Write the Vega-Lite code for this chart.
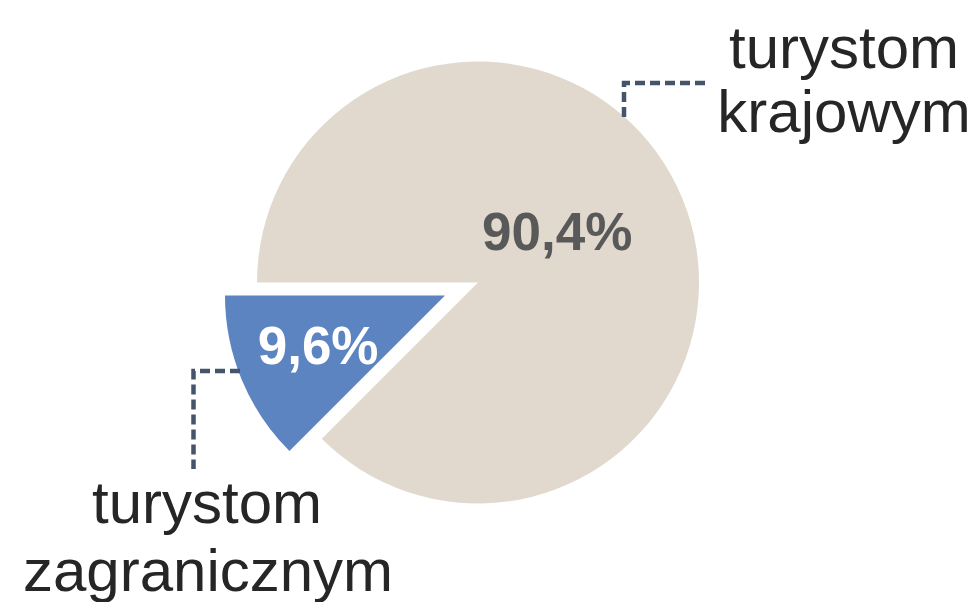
{
  "$schema": "https://vega.github.io/schema/vega-lite/v6.json",
  "width": 956,
  "height": 565,
  "autosize": {"type": "none"},
  "padding": {"left": 0, "top": 0, "right": 22, "bottom": 37},
  "background": "white",
  "config": {"view": {"stroke": null}},
  "datasets": {
    "udzialy": [
      {"kategoria": "turystom krajowym", "udzial": 90.4, "etykieta": "90,4%", "kolejnosc": 1},
      {"kategoria": "turystom zagranicznym", "udzial": 9.6, "etykieta": "9,6%", "kolejnosc": 2}
    ],
    "podpisy": [
      {"linia": "turystom", "px": 844, "py": 68},
      {"linia": "krajowym", "px": 844, "py": 131.5},
      {"linia": "turystom", "px": 207, "py": 523},
      {"linia": "zagranicznym", "px": 208, "py": 590.5}
    ],
    "odnosniki": [
      {"odnosnik": "krajowym", "krok": 1, "px": 624, "py": 117},
      {"odnosnik": "krajowym", "krok": 2, "px": 624, "py": 83},
      {"odnosnik": "krajowym", "krok": 3, "px": 707, "py": 83},
      {"odnosnik": "zagranicznym", "krok": 1, "px": 240, "py": 371},
      {"odnosnik": "zagranicznym", "krok": 2, "px": 193.5, "py": 371},
      {"odnosnik": "zagranicznym", "krok": 3, "px": 193.5, "py": 469}
    ]
  },
  "layer": [
    {
      "data": {"name": "udzialy"},
      "mark": {"type": "arc", "outerRadius": 221},
      "encoding": {
        "theta": {"field": "udzial", "type": "quantitative", "stack": true,
          "scale": {"type": "linear", "domain": [0, 90.4, 100], "range": [4.712389, 10.210176, 10.995574]}},
        "order": {"field": "kolejnosc", "type": "quantitative"},
        "color": {"field": "kategoria", "type": "nominal", "legend": null,
          "scale": {"domain": ["turystom krajowym", "turystom zagranicznym"], "range": ["#E2D9CE", "#5B84C1"]}},
        "opacity": {"condition": {"test": "datum.kategoria === 'turystom krajowym'", "value": 1}, "value": 0}
      }
    },
    {
      "data": {"name": "udzialy"},
      "mark": {"type": "arc", "outerRadius": 220, "xOffset": -33, "yOffset": 13},
      "encoding": {
        "theta": {"field": "udzial", "type": "quantitative", "stack": true},
        "order": {"field": "kolejnosc", "type": "quantitative"},
        "color": {"field": "kategoria", "type": "nominal", "legend": null},
        "opacity": {"condition": {"test": "datum.kategoria === 'turystom zagranicznym'", "value": 1}, "value": 0}
      }
    },
    {
      "data": {"name": "udzialy"},
      "mark": {"type": "text", "radius": 90, "dx": -4, "dy": 2, "fontSize": 53, "fontWeight": "bold",
        "font": "Liberation Sans", "fill": "#595959", "align": "center", "baseline": "alphabetic"},
      "encoding": {
        "theta": {"field": "udzial", "type": "quantitative", "stack": true},
        "order": {"field": "kolejnosc", "type": "quantitative"},
        "detail": {"field": "kategoria", "type": "nominal"},
        "text": {"condition": {"test": "datum.kategoria === 'turystom krajowym'", "field": "etykieta"}, "value": ""}
      }
    },
    {
      "data": {"name": "udzialy"},
      "mark": {"type": "text", "radius": 172, "dx": -1, "dy": 16, "fontSize": 53, "fontWeight": "bold",
        "font": "Liberation Sans", "fill": "#FFFFFF", "align": "center", "baseline": "alphabetic"},
      "encoding": {
        "theta": {"field": "udzial", "type": "quantitative", "stack": true},
        "order": {"field": "kolejnosc", "type": "quantitative"},
        "detail": {"field": "kategoria", "type": "nominal"},
        "text": {"condition": {"test": "datum.kategoria === 'turystom zagranicznym'", "field": "etykieta"}, "value": ""}
      }
    },
    {
      "data": {"name": "odnosniki"},
      "mark": {"type": "line", "stroke": "#44546A", "strokeWidth": 4.5, "strokeDash": [10, 5], "strokeCap": "butt"},
      "encoding": {
        "x": {"field": "px", "type": "quantitative", "axis": null,
          "scale": {"domain": [0, 956], "nice": false, "zero": false}},
        "y": {"field": "py", "type": "quantitative", "axis": null,
          "scale": {"domain": [0, 565], "reverse": true, "nice": false, "zero": false}},
        "detail": {"field": "odnosnik", "type": "nominal"},
        "order": {"field": "krok", "type": "quantitative"}
      }
    },
    {
      "data": {"name": "podpisy"},
      "mark": {"type": "text", "fontSize": 60, "font": "Liberation Sans", "fill": "#262626",
        "align": "center", "baseline": "alphabetic"},
      "encoding": {
        "x": {"field": "px", "type": "quantitative", "axis": null},
        "y": {"field": "py", "type": "quantitative", "axis": null},
        "text": {"field": "linia", "type": "nominal"}
      }
    }
  ]
}
